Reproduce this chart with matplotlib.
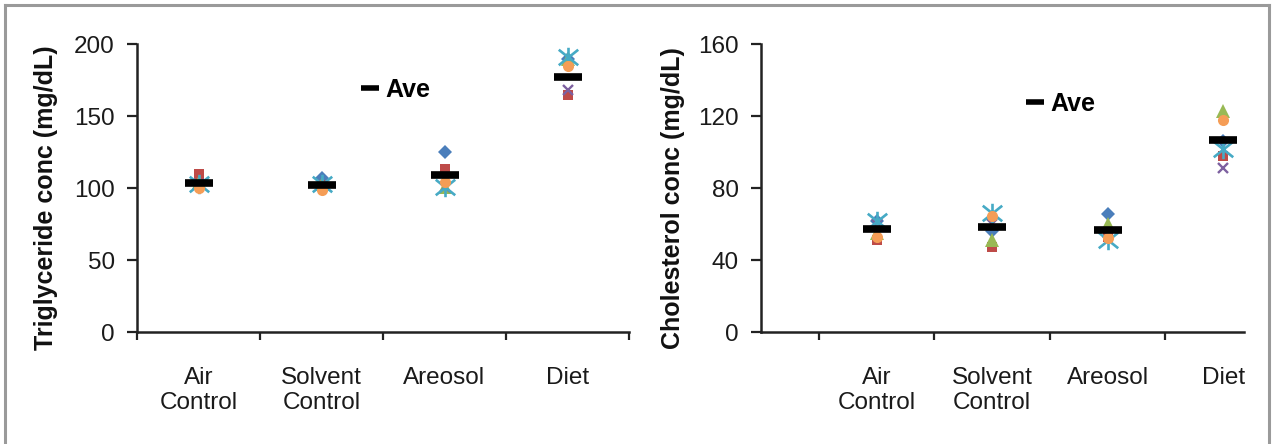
import numpy as np
import matplotlib
matplotlib.use("Agg")
import matplotlib.pyplot as plt
from matplotlib.lines import Line2D
from matplotlib.path import Path

plt.rcParams['font.family'] = ['Liberation Sans', 'DejaVu Sans']

categories = ["Air\nControl", "Solvent\nControl", "Areosol", "Diet"]

# Triglyceride (mg/dL), six animals per group (series 1..6)
tg_s1 = [104, 107, 125, 190]
tg_s2 = [110, 102, 113, 165]
tg_s3 = [104, 103, 101, 190]
tg_s4 = [103, 102, 101, 168]
tg_s5 = [103, 103, 101, 191]
tg_s6 = [100, 99, 104, 185]
tg_ave = [103.5, 102.5, 109, 177]

# Cholesterol (mg/dL)
ch_s1 = [62, 56, 65.5, 106]
ch_s2 = [51, 47.5, 53, 98]
ch_s3 = [55, 51, 60, 123]
ch_s4 = [60, 60, 55, 91]
ch_s5 = [62, 66, 51, 102]
ch_s6 = [53, 64.5, 52, 118]
ch_ave = [57.5, 58.5, 56.5, 106.5]

# asterisk-like marker (x plus vertical stroke)
star_path = Path([(-1, -0.8), (1, 0.8), (-1, 0.8), (1, -0.8), (0, -1), (0, 1)],
                 [Path.MOVETO, Path.LINETO, Path.MOVETO, Path.LINETO, Path.MOVETO, Path.LINETO])

styles = [
    dict(marker='D', color='#4A7EBB', ms=7, mew=0),
    dict(marker='s', color='#BE4B48', ms=7, mew=0),
    dict(marker='^', color='#98B954', ms=10, mew=0),
    dict(marker='x', color='#7D60A0', ms=7, mew=1.7),
    dict(marker=star_path, color='#46AAC5', ms=14, mew=1.9),
    dict(marker='o', color='#F59D56', ms=8, mew=0),
]

W, H = 1274, 444
fig = plt.figure(figsize=(W / 100, H / 100), dpi=100)
fig.patch.set_facecolor('white')

# border
fig.add_artist(Line2D([5 / W, 5 / W], [0, 1 - 5 / H], color='#9a9a9a', lw=2.2))
fig.add_artist(Line2D([5 / W, 1269 / W], [1 - 5 / H, 1 - 5 / H], color='#9a9a9a', lw=2.2))
fig.add_artist(Line2D([1269 / W, 1269 / W], [0, 1 - 5 / H], color='#9a9a9a', lw=2.2))

def panel(rect, series, ave, ymax, yticks, ylabel, xlim, lab_x, leg_xy):
    ax = fig.add_axes(rect)
    x = np.arange(1, len(categories) + 1)
    for vals, st in zip(series, styles):
        ax.plot(x, vals, ls='none', marker=st['marker'], color=st['color'],
                ms=st['ms'], mew=st['mew'], mec=st['color'], zorder=3)
    ax.plot(x, ave, ls='none', marker='_', color='black', ms=19.5, mew=5.5, zorder=4)
    ax.set_xlim(*xlim)
    ax.set_ylim(0, ymax)
    ax.set_yticks(yticks)
    ax.set_yticklabels([str(v) for v in yticks])
    ax.set_xticks(x)
    ax.set_xticklabels(categories)
    ax.tick_params(axis='x', length=0, pad=25, labelsize=17.5, labelcolor='#1a1a1a')
    minor = np.arange(xlim[0] + 0.5 if xlim[0] == 0 else xlim[0], xlim[1] + 0.01, 1.0)
    ax.set_xticks(minor, minor=True)
    ax.tick_params(axis='x', which='minor', direction='out', length=6, width=1.6, color='#222222')
    ax.tick_params(axis='y', direction='out', length=7, width=1.6, color='#222222',
                   pad=9, labelsize=17.5, labelcolor='#1a1a1a')
    for s in ['top', 'right']:
        ax.spines[s].set_visible(False)
    for s in ['left', 'bottom']:
        ax.spines[s].set_linewidth(1.8)
        ax.spines[s].set_color('#222222')
    ax.set_ylabel(ylabel, fontsize=18, fontweight='bold', color='#111111')
    ax.yaxis.set_label_coords(lab_x, 0.466)
    h = Line2D([], [], ls='none', marker='_', color='black', ms=12.5, mew=4)
    ax.legend([h], ['Ave'], loc='center left', bbox_to_anchor=leg_xy, frameon=False,
              handlelength=0.75, handletextpad=0.25, borderpad=0, borderaxespad=0,
              prop=dict(size=18, weight='bold'))
    return ax

ybot = 1 - 332 / H
ytop = 1 - 44.3 / H
panel([137 / W, ybot, (629 - 137) / W, ytop - ybot],
      [tg_s1, tg_s2, tg_s3, tg_s4, tg_s5, tg_s6], tg_ave, 200, [0, 50, 100, 150, 200],
      'Triglyceride conc (mg/dL)', (0.5, 4.5), -0.16, (0.455, 0.841))
panel([761 / W, ybot, (1244 - 761) / W, ytop - ybot],
      [ch_s1, ch_s2, ch_s3, ch_s4, ch_s5, ch_s6], ch_ave, 160, [0, 40, 80, 120, 160],
      'Cholesterol conc (mg/dL)', (0.0, 4.18), -0.158, (0.548, 0.794))

fig.savefig('out.png', dpi=100, facecolor='white')
